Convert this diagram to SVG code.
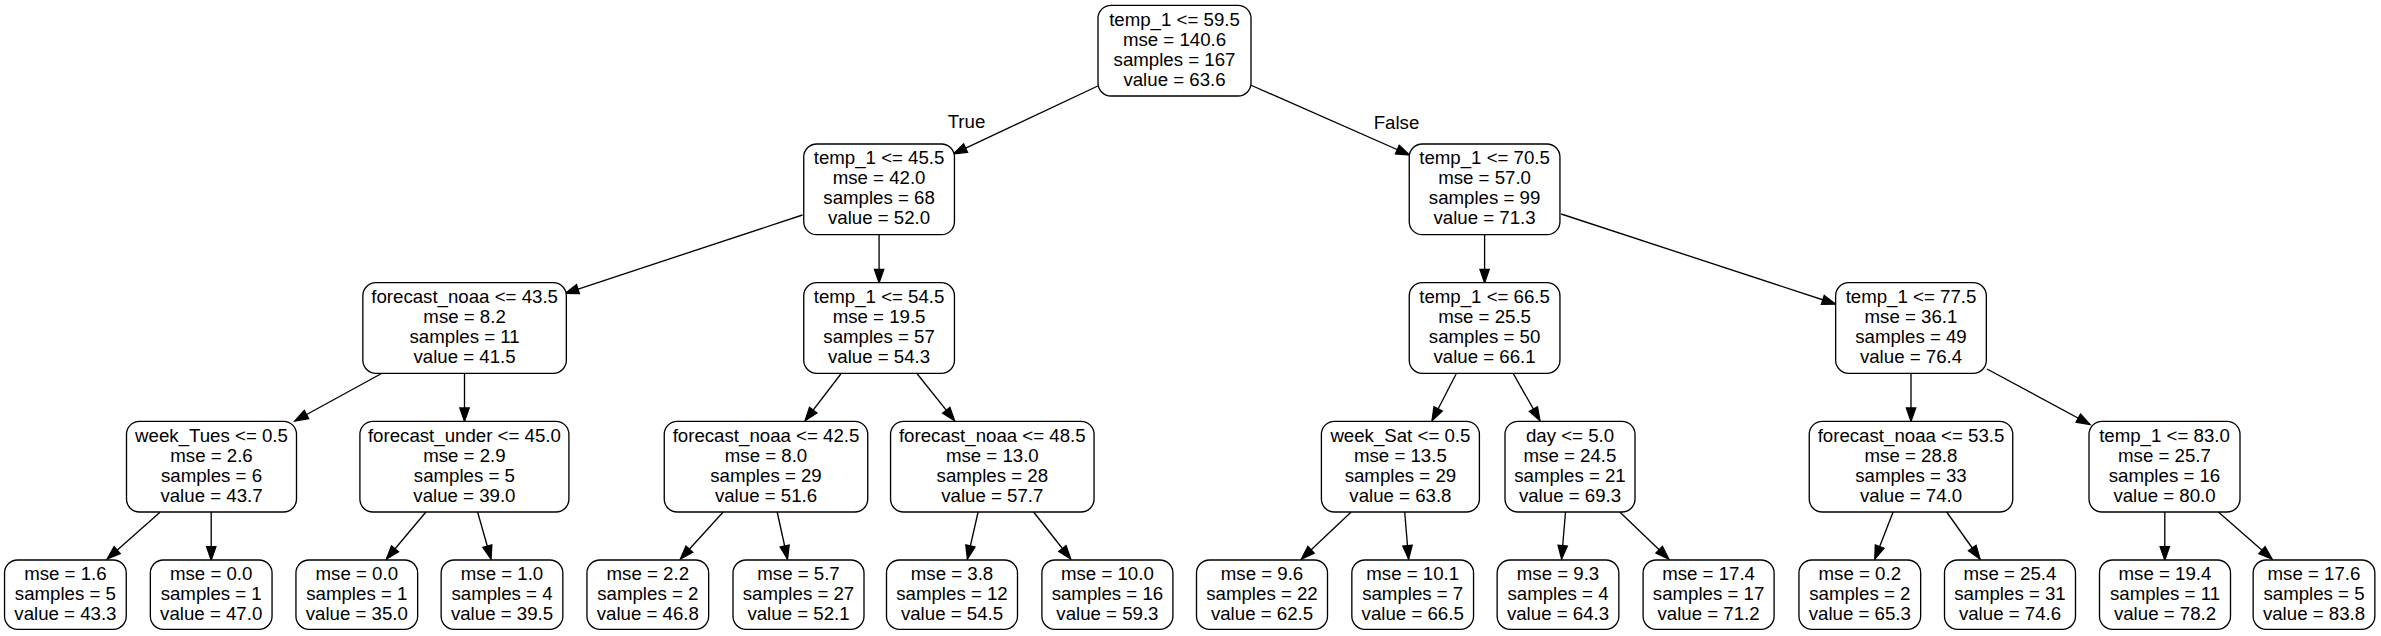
<svg xmlns="http://www.w3.org/2000/svg" width="2381" height="636" viewBox="0 0 2381 636">
<style>
.bg{fill:#ffffff}
.box{fill:#ffffff;stroke:#000000;stroke-width:1.33}
.t{font-family:"Liberation Sans",Arial,Helvetica,sans-serif;font-size:18.67px;fill:#000000;text-anchor:middle}
.e{fill:none;stroke:#000000;stroke-width:1.33}
</style>
<defs>
<marker id="arr" markerUnits="userSpaceOnUse" markerWidth="16" markerHeight="12" refX="13.33" refY="4.67" orient="auto" overflow="visible">
<path d="M0,0 L13.33,4.67 L0,9.33 Z" fill="#000000" stroke="#000000" stroke-width="1.33"/>
</marker>
</defs>
<rect class="bg" x="0" y="0" width="2381" height="636"/>
<g id="connectors">
<line class="e" marker-end="url(#arr)" x1="1097.8" y1="86" x2="953.5" y2="153.8"/>
<line class="e" marker-end="url(#arr)" x1="1250.5" y1="85" x2="1409.5" y2="155"/>
<line class="e" marker-end="url(#arr)" x1="802.5" y1="215" x2="565.3" y2="293.3"/>
<line class="e" marker-end="url(#arr)" x1="879.1" y1="234.7" x2="879.1" y2="282.7"/>
<line class="e" marker-end="url(#arr)" x1="1484.6" y1="234.7" x2="1484.6" y2="282.7"/>
<line class="e" marker-end="url(#arr)" x1="1561.2" y1="214" x2="1835.5" y2="304"/>
<line class="e" marker-end="url(#arr)" x1="380.6" y1="374" x2="294.8" y2="421"/>
<line class="e" marker-end="url(#arr)" x1="464.5" y1="373.3" x2="464.5" y2="421.3"/>
<line class="e" marker-end="url(#arr)" x1="840.8" y1="374" x2="805.1" y2="420.7"/>
<line class="e" marker-end="url(#arr)" x1="917.3" y1="374" x2="954.6" y2="420.7"/>
<line class="e" marker-end="url(#arr)" x1="1456.1" y1="374" x2="1432" y2="420.7"/>
<line class="e" marker-end="url(#arr)" x1="1513.5" y1="374" x2="1540" y2="420.7"/>
<line class="e" marker-end="url(#arr)" x1="1911" y1="373.3" x2="1911" y2="421.3"/>
<line class="e" marker-end="url(#arr)" x1="1987" y1="369" x2="2090" y2="424.5"/>
<line class="e" marker-end="url(#arr)" x1="160" y1="512.3" x2="107.2" y2="559"/>
<line class="e" marker-end="url(#arr)" x1="211.2" y1="512" x2="211.2" y2="560"/>
<line class="e" marker-end="url(#arr)" x1="425.9" y1="512" x2="386.5" y2="559"/>
<line class="e" marker-end="url(#arr)" x1="477.6" y1="512" x2="491" y2="559"/>
<line class="e" marker-end="url(#arr)" x1="723.2" y1="512" x2="680.4" y2="559"/>
<line class="e" marker-end="url(#arr)" x1="777.2" y1="512" x2="787.5" y2="559"/>
<line class="e" marker-end="url(#arr)" x1="978.1" y1="512" x2="967.4" y2="559"/>
<line class="e" marker-end="url(#arr)" x1="1033.6" y1="512" x2="1070.7" y2="559"/>
<line class="e" marker-end="url(#arr)" x1="1351.2" y1="512" x2="1301.4" y2="559"/>
<line class="e" marker-end="url(#arr)" x1="1404.7" y1="512" x2="1408.6" y2="559"/>
<line class="e" marker-end="url(#arr)" x1="1565.5" y1="512" x2="1561.6" y2="559"/>
<line class="e" marker-end="url(#arr)" x1="1619.8" y1="512" x2="1668.8" y2="559"/>
<line class="e" marker-end="url(#arr)" x1="1893.1" y1="512" x2="1874.8" y2="559"/>
<line class="e" marker-end="url(#arr)" x1="1946.7" y1="512" x2="1980" y2="559"/>
<line class="e" marker-end="url(#arr)" x1="2164.8" y1="512" x2="2164.8" y2="560"/>
<line class="e" marker-end="url(#arr)" x1="2218.4" y1="512" x2="2272" y2="559"/>
<text class="t" x="966.5" y="128">True</text>
<text class="t" x="1396.5" y="128.8">False</text>
</g>
<g id="root">
<rect class="box" x="1098" y="5.33" width="153" height="90.67" rx="13"/>
<text class="t" x="1174.5" y="25.6">temp_1 &lt;= 59.5</text>
<text class="t" x="1174.5" y="45.6">mse = 140.6</text>
<text class="t" x="1174.5" y="65.6">samples = 167</text>
<text class="t" x="1174.5" y="85.6">value = 63.6</text>
</g>
<g id="n1">
<rect class="box" x="803.75" y="144" width="150.7" height="90.67" rx="13"/>
<text class="t" x="879.1" y="164.27">temp_1 &lt;= 45.5</text>
<text class="t" x="879.1" y="184.27">mse = 42.0</text>
<text class="t" x="879.1" y="204.27">samples = 68</text>
<text class="t" x="879.1" y="224.27">value = 52.0</text>
</g>
<g id="n2">
<rect class="box" x="1409.25" y="144" width="150.7" height="90.67" rx="13"/>
<text class="t" x="1484.6" y="164.27">temp_1 &lt;= 70.5</text>
<text class="t" x="1484.6" y="184.27">mse = 57.0</text>
<text class="t" x="1484.6" y="204.27">samples = 99</text>
<text class="t" x="1484.6" y="224.27">value = 71.3</text>
</g>
<g id="n3">
<rect class="box" x="362.85" y="282.67" width="203.5" height="90.67" rx="13"/>
<text class="t" x="464.6" y="302.93">forecast_noaa &lt;= 43.5</text>
<text class="t" x="464.6" y="322.93">mse = 8.2</text>
<text class="t" x="464.6" y="342.93">samples = 11</text>
<text class="t" x="464.6" y="362.93">value = 41.5</text>
</g>
<g id="n4">
<rect class="box" x="803.75" y="282.67" width="150.7" height="90.67" rx="13"/>
<text class="t" x="879.1" y="302.93">temp_1 &lt;= 54.5</text>
<text class="t" x="879.1" y="322.93">mse = 19.5</text>
<text class="t" x="879.1" y="342.93">samples = 57</text>
<text class="t" x="879.1" y="362.93">value = 54.3</text>
</g>
<g id="n5">
<rect class="box" x="1409.25" y="282.67" width="150.7" height="90.67" rx="13"/>
<text class="t" x="1484.6" y="302.93">temp_1 &lt;= 66.5</text>
<text class="t" x="1484.6" y="322.93">mse = 25.5</text>
<text class="t" x="1484.6" y="342.93">samples = 50</text>
<text class="t" x="1484.6" y="362.93">value = 66.1</text>
</g>
<g id="n6">
<rect class="box" x="1835.65" y="282.67" width="150.7" height="90.67" rx="13"/>
<text class="t" x="1911" y="302.93">temp_1 &lt;= 77.5</text>
<text class="t" x="1911" y="322.93">mse = 36.1</text>
<text class="t" x="1911" y="342.93">samples = 49</text>
<text class="t" x="1911" y="362.93">value = 76.4</text>
</g>
<g id="n7">
<rect class="box" x="126.5" y="421.33" width="170" height="90.67" rx="13"/>
<text class="t" x="211.5" y="441.6">week_Tues &lt;= 0.5</text>
<text class="t" x="211.5" y="461.6">mse = 2.6</text>
<text class="t" x="211.5" y="481.6">samples = 6</text>
<text class="t" x="211.5" y="501.6">value = 43.7</text>
</g>
<g id="n8">
<rect class="box" x="359.9" y="421.33" width="209" height="90.67" rx="13"/>
<text class="t" x="464.4" y="441.6">forecast_under &lt;= 45.0</text>
<text class="t" x="464.4" y="461.6">mse = 2.9</text>
<text class="t" x="464.4" y="481.6">samples = 5</text>
<text class="t" x="464.4" y="501.6">value = 39.0</text>
</g>
<g id="n9">
<rect class="box" x="664.25" y="421.33" width="203.5" height="90.67" rx="13"/>
<text class="t" x="766" y="441.6">forecast_noaa &lt;= 42.5</text>
<text class="t" x="766" y="461.6">mse = 8.0</text>
<text class="t" x="766" y="481.6">samples = 29</text>
<text class="t" x="766" y="501.6">value = 51.6</text>
</g>
<g id="n10">
<rect class="box" x="890.55" y="421.33" width="203.5" height="90.67" rx="13"/>
<text class="t" x="992.3" y="441.6">forecast_noaa &lt;= 48.5</text>
<text class="t" x="992.3" y="461.6">mse = 13.0</text>
<text class="t" x="992.3" y="481.6">samples = 28</text>
<text class="t" x="992.3" y="501.6">value = 57.7</text>
</g>
<g id="n11">
<rect class="box" x="1321.4" y="421.33" width="158" height="90.67" rx="13"/>
<text class="t" x="1400.4" y="441.6">week_Sat &lt;= 0.5</text>
<text class="t" x="1400.4" y="461.6">mse = 13.5</text>
<text class="t" x="1400.4" y="481.6">samples = 29</text>
<text class="t" x="1400.4" y="501.6">value = 63.8</text>
</g>
<g id="n12">
<rect class="box" x="1505" y="421.33" width="130" height="90.67" rx="13"/>
<text class="t" x="1570" y="441.6">day &lt;= 5.0</text>
<text class="t" x="1570" y="461.6">mse = 24.5</text>
<text class="t" x="1570" y="481.6">samples = 21</text>
<text class="t" x="1570" y="501.6">value = 69.3</text>
</g>
<g id="n13">
<rect class="box" x="1809.25" y="421.33" width="203.5" height="90.67" rx="13"/>
<text class="t" x="1911" y="441.6">forecast_noaa &lt;= 53.5</text>
<text class="t" x="1911" y="461.6">mse = 28.8</text>
<text class="t" x="1911" y="481.6">samples = 33</text>
<text class="t" x="1911" y="501.6">value = 74.0</text>
</g>
<g id="n14">
<rect class="box" x="2089" y="421.33" width="151" height="90.67" rx="13"/>
<text class="t" x="2164.5" y="441.6">temp_1 &lt;= 83.0</text>
<text class="t" x="2164.5" y="461.6">mse = 25.7</text>
<text class="t" x="2164.5" y="481.6">samples = 16</text>
<text class="t" x="2164.5" y="501.6">value = 80.0</text>
</g>
<g id="L1">
<rect class="box" x="4.55" y="560" width="121.7" height="69.33" rx="13"/>
<text class="t" x="65.4" y="580.27">mse = 1.6</text>
<text class="t" x="65.4" y="600.27">samples = 5</text>
<text class="t" x="65.4" y="620.27">value = 43.3</text>
</g>
<g id="L2">
<rect class="box" x="150.35" y="560" width="121.7" height="69.33" rx="13"/>
<text class="t" x="211.2" y="580.27">mse = 0.0</text>
<text class="t" x="211.2" y="600.27">samples = 1</text>
<text class="t" x="211.2" y="620.27">value = 47.0</text>
</g>
<g id="L3">
<rect class="box" x="295.95" y="560" width="121.7" height="69.33" rx="13"/>
<text class="t" x="356.8" y="580.27">mse = 0.0</text>
<text class="t" x="356.8" y="600.27">samples = 1</text>
<text class="t" x="356.8" y="620.27">value = 35.0</text>
</g>
<g id="L4">
<rect class="box" x="441.15" y="560" width="121.7" height="69.33" rx="13"/>
<text class="t" x="502" y="580.27">mse = 1.0</text>
<text class="t" x="502" y="600.27">samples = 4</text>
<text class="t" x="502" y="620.27">value = 39.5</text>
</g>
<g id="L5">
<rect class="box" x="586.95" y="560" width="121.7" height="69.33" rx="13"/>
<text class="t" x="647.8" y="580.27">mse = 2.2</text>
<text class="t" x="647.8" y="600.27">samples = 2</text>
<text class="t" x="647.8" y="620.27">value = 46.8</text>
</g>
<g id="L6">
<rect class="box" x="733" y="560" width="131" height="69.33" rx="13"/>
<text class="t" x="798.5" y="580.27">mse = 5.7</text>
<text class="t" x="798.5" y="600.27">samples = 27</text>
<text class="t" x="798.5" y="620.27">value = 52.1</text>
</g>
<g id="L7">
<rect class="box" x="886.5" y="560" width="131" height="69.33" rx="13"/>
<text class="t" x="952" y="580.27">mse = 3.8</text>
<text class="t" x="952" y="600.27">samples = 12</text>
<text class="t" x="952" y="620.27">value = 54.5</text>
</g>
<g id="L8">
<rect class="box" x="1041.9" y="560" width="131" height="69.33" rx="13"/>
<text class="t" x="1107.4" y="580.27">mse = 10.0</text>
<text class="t" x="1107.4" y="600.27">samples = 16</text>
<text class="t" x="1107.4" y="620.27">value = 59.3</text>
</g>
<g id="L9">
<rect class="box" x="1196.5" y="560" width="131" height="69.33" rx="13"/>
<text class="t" x="1262" y="580.27">mse = 9.6</text>
<text class="t" x="1262" y="600.27">samples = 22</text>
<text class="t" x="1262" y="620.27">value = 62.5</text>
</g>
<g id="L10">
<rect class="box" x="1351.85" y="560" width="121.7" height="69.33" rx="13"/>
<text class="t" x="1412.7" y="580.27">mse = 10.1</text>
<text class="t" x="1412.7" y="600.27">samples = 7</text>
<text class="t" x="1412.7" y="620.27">value = 66.5</text>
</g>
<g id="L11">
<rect class="box" x="1497.15" y="560" width="121.7" height="69.33" rx="13"/>
<text class="t" x="1558" y="580.27">mse = 9.3</text>
<text class="t" x="1558" y="600.27">samples = 4</text>
<text class="t" x="1558" y="620.27">value = 64.3</text>
</g>
<g id="L12">
<rect class="box" x="1643.1" y="560" width="131" height="69.33" rx="13"/>
<text class="t" x="1708.6" y="580.27">mse = 17.4</text>
<text class="t" x="1708.6" y="600.27">samples = 17</text>
<text class="t" x="1708.6" y="620.27">value = 71.2</text>
</g>
<g id="L13">
<rect class="box" x="1798.95" y="560" width="121.7" height="69.33" rx="13"/>
<text class="t" x="1859.8" y="580.27">mse = 0.2</text>
<text class="t" x="1859.8" y="600.27">samples = 2</text>
<text class="t" x="1859.8" y="620.27">value = 65.3</text>
</g>
<g id="L14">
<rect class="box" x="1944.5" y="560" width="131" height="69.33" rx="13"/>
<text class="t" x="2010" y="580.27">mse = 25.4</text>
<text class="t" x="2010" y="600.27">samples = 31</text>
<text class="t" x="2010" y="620.27">value = 74.6</text>
</g>
<g id="L15">
<rect class="box" x="2099.5" y="560" width="131" height="69.33" rx="13"/>
<text class="t" x="2165" y="580.27">mse = 19.4</text>
<text class="t" x="2165" y="600.27">samples = 11</text>
<text class="t" x="2165" y="620.27">value = 78.2</text>
</g>
<g id="L16">
<rect class="box" x="2253.15" y="560" width="121.7" height="69.33" rx="13"/>
<text class="t" x="2314" y="580.27">mse = 17.6</text>
<text class="t" x="2314" y="600.27">samples = 5</text>
<text class="t" x="2314" y="620.27">value = 83.8</text>
</g>
</svg>
